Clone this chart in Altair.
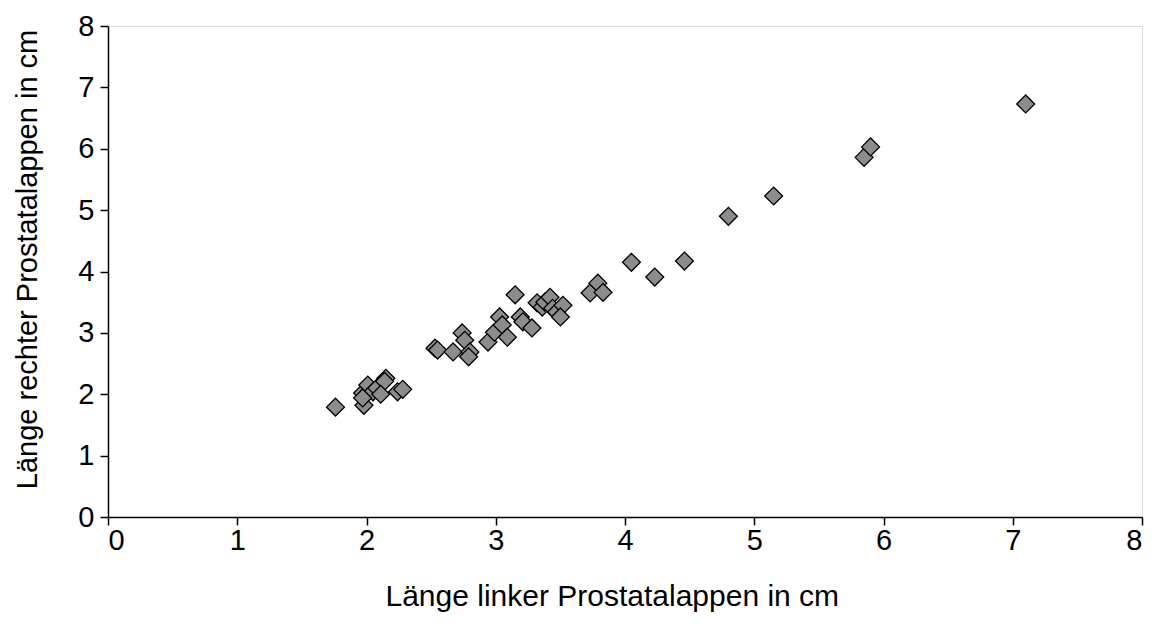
import altair as alt
import pandas as pd

px_x = [335, 364, 363, 368, 373, 377, 386, 384, 398, 403, 381, 363,
        435, 438, 453, 462, 465, 470, 468, 488, 500, 495, 502, 507, 515, 520, 523,
        532, 537, 542, 545, 550, 552, 557, 563, 560,
        590, 598, 603, 632, 655, 685, 729, 773, 864, 871, 1026]
px_y = [407, 405, 393, 385, 392, 388, 378, 381, 392, 389, 394, 398,
        348, 350, 352, 333, 340, 352, 357, 342, 317, 332, 325, 337, 295, 317, 322,
        328, 303, 307, 302, 297, 308, 312, 305, 317,
        293, 283, 292, 262, 277, 261, 216, 196, 157, 147, 104]

links = [round((p - 108) / 129.25, 2) for p in px_x]
rechts = [round((517 - p) / 61.4, 2) for p in px_y]

df = pd.DataFrame({"links": links, "rechts": rechts})

font = "Liberation Sans"
common = dict(values=list(range(9)), grid=False, tickSize=8, tickWidth=1.5,
              tickColor="black", domainColor="black", domainWidth=1.5,
              labelFontSize=29, labelFont=font, titleFont=font,
              labelColor="black", titleColor="black", titleFontWeight="normal")

chart = alt.Chart(df).mark_point(
    shape="diamond", filled=True, fill="#8c8c8c", stroke="black",
    strokeWidth=1.3, size=320, opacity=1
).encode(
    x=alt.X("links:Q", scale=alt.Scale(domain=[0, 8], nice=False),
            axis=alt.Axis(title="Länge linker Prostatalappen in cm", titleFontSize=30,
                          titleX=277, titleAlign="left",
                          labelPadding=1, titlePadding=26, **common)),
    y=alt.Y("rechts:Q", scale=alt.Scale(domain=[0, 8], nice=False),
            axis=alt.Axis(title="Länge rechter Prostatalappen in cm", titleFontSize=29,
                          titleY=233, titleAlign="center",
                          labelPadding=6, titlePadding=35, **common)),
).properties(
    width=1034, height=491,
    autosize=alt.AutoSizeParams(type="none"),
    padding={"left": 100, "top": 18, "right": 6, "bottom": 105},
).configure_view(stroke=None).configure(background="white")

chart.save("out.html", embed_options={"renderer": "svg", "actions": False})
